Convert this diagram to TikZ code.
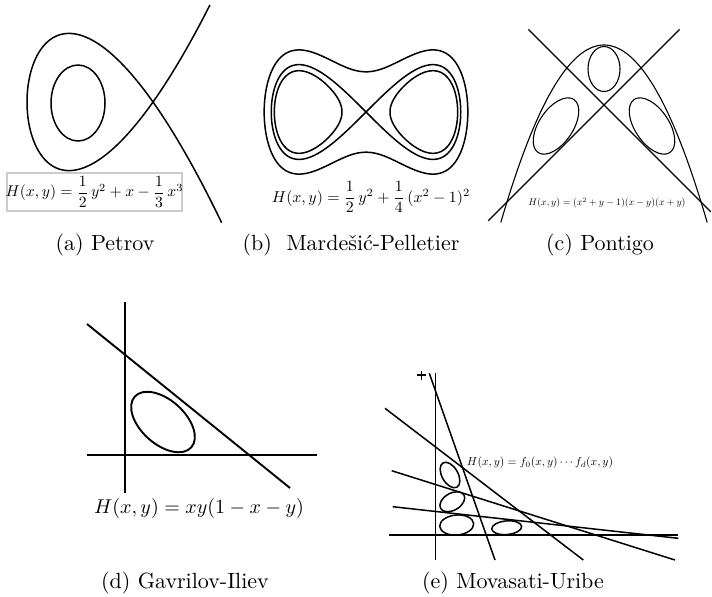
\documentclass[tikz,border=0pt]{standalone}
\usepackage{amsmath}
\usepackage{fontspec}
\begin{document}
\begin{tikzpicture}[x=0.5pt,y=-0.5pt,
  crv/.style={line width=0.75pt, line join=round},
  thn/.style={line width=0.55pt},
  thk/.style={line width=0.95pt},
  captxt/.style={inner sep=0pt, scale=1.1, anchor=center},
  fml/.style={inner sep=0pt, anchor=center}]
\fill[white] (0,0) rectangle (712,596);
\useasboundingbox (0,0) rectangle (712,596);
% ---------- (a) Petrov ----------
\coordinate (PO) at (111,102);
\begin{scope}[shift={(PO)}, x=21pt, y=21pt]
  \draw[crv] plot[domain=-1.704:1.759, samples=200, smooth, variable=\t]
    ({1.5*\t*\t-2},{3*\t-1.5*\t*\t*\t});
\end{scope}
\draw[crv] (78,103) ellipse [x radius=27, y radius=38];
\node[fml, draw=black!20, line width=0.6pt, fill=white, minimum width=87.5pt, minimum height=19pt] (fa) at (94.5,192) {};
\node[fml, scale=0.78] (fat) at (94.5,192) {$H(x,y)=\dfrac{1}{2}\,y^2+x-\dfrac{1}{3}\,x^3$};
\node[captxt] (ca) at (105,245) {(a) Petrov};
% ---------- (b) Mardesic-Pelletier ----------
\coordinate (MO) at (366,112);
\begin{scope}[shift={(MO)}, x=33.5pt, y=33.5pt]
  \draw[crv] plot[domain=0:360, samples=240, smooth, variable=\t]
    ({1.4142*cos(\t)},{0.7071*sin(2*\t)}) -- cycle;
  \draw[crv] plot[domain=0:360, samples=120, smooth, variable=\t]
    ({sqrt(1+0.872*cos(\t))},{0.6164*sin(\t)}) -- cycle;
  \draw[crv] plot[domain=0:360, samples=120, smooth, variable=\t]
    ({-sqrt(1+0.872*cos(\t))},{0.6164*sin(\t)}) -- cycle;
  \draw[crv] plot[domain=0:360, samples=200, smooth, variable=\t]
    ({1.520*cos(\t)},{1.520*sin(\t)*sqrt((0.3115+2.311*cos(\t)^2)/2)}) -- cycle;
\end{scope}
\node[fml, scale=0.79] (fb) at (371,197) {$H(x,y)=\dfrac{1}{2}\,y^2+\dfrac{1}{4}\,(x^2-1)^2$};
\node[captxt] (cb) at (351,245) {(b)\ \ Mardešić-Pelletier};
% ---------- (c) Pontigo ----------
\coordinate (CO) at (604,105);
\begin{scope}[shift={(CO)}, x=30pt, y=30pt]
  \draw[thn] plot[domain=-1.72:1.72, samples=100, smooth] (\x,{1-\x*\x});
  \draw[thn] (-1.93,-1.93) -- (1.26,1.26);
  \draw[thn] (-1.26,1.26) -- (1.78,-1.78);
\end{scope}
\draw[thn] (604,69) ellipse [x radius=16, y radius=22.5];
\draw[thn, rotate around={56:(556,126)}] (556,126) ellipse [x radius=32, y radius=17];
\draw[thn, rotate around={-56:(652,126)}] (652,126) ellipse [x radius=32, y radius=17];
\node[fml, scale=0.49] (fc) at (607,203) {$H(x,y)=(x^2+y-1)(x-y)(x+y)$};
\node[captxt] (cc) at (600,245) {(c) Pontigo};
% ---------- (d) Gavrilov-Iliev ----------
\draw[thk] (125,302) -- (125,493);
\draw[thk] (87,455) -- (317,455);
\draw[thk] (87,324) -- (290,488);
\draw[thk, rotate around={-42:(163,422)}] (163,422) ellipse [x radius=38, y radius=22];
\node[fml, scale=1.0] (fd) at (199,508) {$H(x,y)=xy(1-x-y)$};
\node[captxt] (cd) at (185,583) {(d) Gavrilov-Iliev};
% ---------- (e) Movasati-Uribe ----------
\draw[crv] (435.7,373) -- (435.7,560);
\draw[crv] (389,535) -- (678,535);
\draw[crv] (429.3,373.3) -- (495,560);
\draw[crv] (385,408.3) -- (583.3,560);
\draw[crv] (391.7,470.7) -- (675,560);
\draw[crv] (392.7,506.7) -- (678.3,538.3);
\draw[thn] (416.7,375) -- (425.7,375);
\draw[thn] (421.2,370.5) -- (421.2,379.5);
\draw[crv, rotate around={-60:(450,475)}] (450,475) ellipse [x radius=14, y radius=8];
\draw[crv, rotate around={30:(452.3,501.7)}] (452.3,501.7) ellipse [x radius=13.5, y radius=8.5];
\draw[crv, rotate around={5:(456.7,525)}] (456.7,525) ellipse [x radius=17, y radius=10];
\draw[crv, rotate around={5:(506.7,527.7)}] (506.7,527.7) ellipse [x radius=15, y radius=6.8];
\node[fml, scale=0.58] (fe) at (540,463) {$H(x,y)=f_0(x,y)\cdots f_d(x,y)$};
\node[captxt] (ce) at (513,583) {(e) Movasati-Uribe};
\end{tikzpicture}
\end{document}
